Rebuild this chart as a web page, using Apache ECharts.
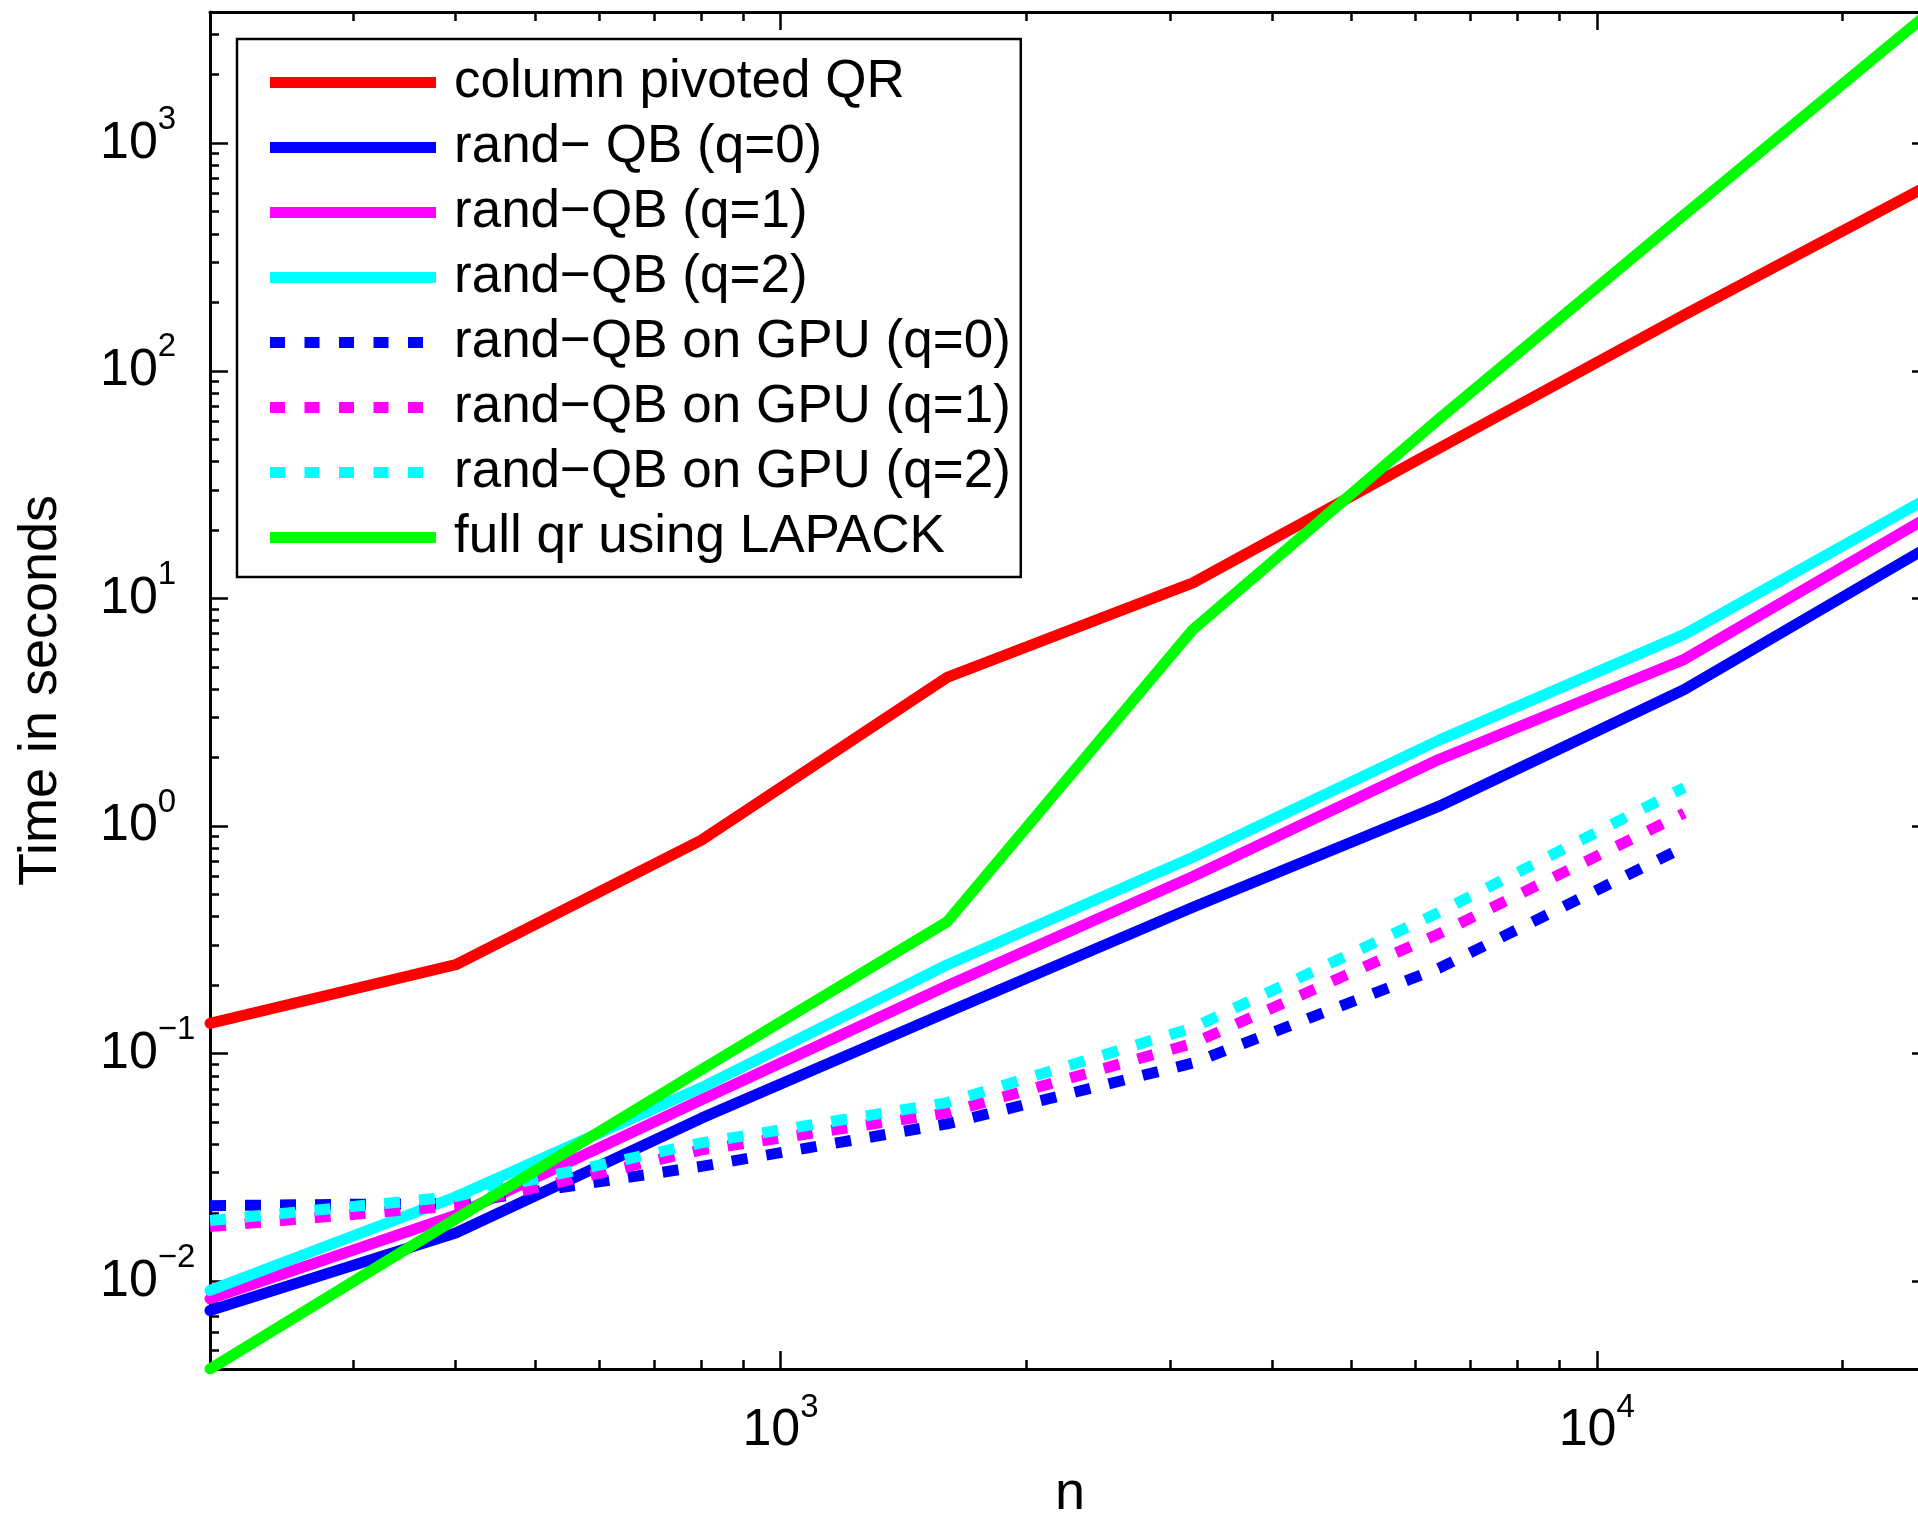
<!DOCTYPE html>
<html>
<head>
<meta charset="utf-8">
<script src="https://cdn.jsdelivr.net/npm/echarts@6/dist/echarts.min.js"></script>
<style>
  html, body { margin: 0; padding: 0; background: #fff; }
  #chart { width: 1918px; height: 1515px; }
</style>
</head>
<body>
<div id="chart"></div>
<script>
// problem size n
const nValues = [200, 400, 800, 1600, 3200, 6400, 12800, 25600];
// time in seconds
const colPivotQR = [0.136, 0.246, 0.867, 4.50, 11.7, 45.6, 176, 658];
const randQB0 = [0.00744, 0.0163, 0.0521, 0.152, 0.44, 1.22, 3.98, 17];
const randQB1 = [0.00838, 0.0195, 0.0628, 0.199, 0.60, 1.96, 5.4, 23];
const randQB2 = [0.00912, 0.0235, 0.071, 0.246, 0.73, 2.38, 6.95, 27.9];
// GPU runs stop at n = 12800
const gpuQB0 = [0.0215, 0.022, 0.032, 0.0492, 0.091, 0.237, 0.81];
const gpuQB1 = [0.0174, 0.0215, 0.0378, 0.055, 0.111, 0.336, 1.14];
const gpuQB2 = [0.0185, 0.0236, 0.0406, 0.061, 0.130, 0.417, 1.476];
const lapackQR = [0.00412, 0.0188, 0.0851, 0.38, 7.3, 61.3, 485, 3770];

// tick marks
const xMajorTicks = [1000, 10000];
const xMinorTicks = [300, 400, 500, 600, 700, 800, 900,
  2000, 3000, 4000, 5000, 6000, 7000, 8000, 9000, 20000];
const yMajorTicks = [0.01, 0.1, 1, 10, 100, 1000];
const yMinorTicks = [0.005, 0.006, 0.007, 0.008, 0.009,
  0.02, 0.03, 0.04, 0.05, 0.06, 0.07, 0.08, 0.09,
  0.2, 0.3, 0.4, 0.5, 0.6, 0.7, 0.8, 0.9,
  2, 3, 4, 5, 6, 7, 8, 9,
  20, 30, 40, 50, 60, 70, 80, 90,
  200, 300, 400, 500, 600, 700, 800, 900,
  2000, 3000];

const FONT = "'Liberation Sans', Arial, Helvetica, sans-serif";
const allTimes = [].concat(colPivotQR, randQB0, randQB1, randQB2, gpuQB0, gpuQB1, gpuQB2, lapackQR);
const xMin = nValues[0], xMax = nValues[nValues.length - 1];
const yMin = Math.min.apply(null, allTimes), yMax = Math.max.apply(null, allTimes);

function powLabel(v) {
  const e = Math.round(Math.log10(v));
  return '{b|10}{e|' + (e < 0 ? '\u2212' + (-e) : e) + '}';
}
const powRich = {
  b: { fontSize: 52, lineHeight: 80, fontFamily: FONT, color: '#000' },
  e: { fontSize: 33, lineHeight: 32, verticalAlign: 'top', fontFamily: FONT, color: '#000' }
};

function pairs(vals) {
  return vals.map((v, i) => [nValues[i], v]);
}

// one axis of the box frame (major or minor ticks)
function frameAxis(position, lo, hi, ticks, len, showLine) {
  return {
    type: 'log', logBase: 10, position: position, min: lo, max: hi,
    axisLine: { show: showLine, onZero: false, lineStyle: { color: '#000', width: 3 } },
    axisTick: { show: true, inside: true, length: len, customValues: ticks,
      lineStyle: { color: '#000', width: 2.5 } },
    axisLabel: { show: false },
    splitLine: { show: false },
    minorTick: { show: false }
  };
}

const solid = { width: 11, cap: 'round', join: 'round' };
const dotted = { width: 11, cap: 'butt', join: 'round', type: [16, 19] };
const dotIcon = 'path://M0,0h15v11h-15z M34.5,0h15v11h-15z M69,0h15v11h-15z M103.5,0h15v11h-15z M138,0h15v11h-15z M166,11';

const seriesDefs = [
  { name: 'column pivoted QR', data: colPivotQR, color: '#ff0000', style: solid },
  { name: 'rand\u2212 QB (q=0)', data: randQB0, color: '#0000ff', style: solid },
  { name: 'rand\u2212QB (q=1)', data: randQB1, color: '#ff00ff', style: solid },
  { name: 'rand\u2212QB (q=2)', data: randQB2, color: '#00ffff', style: solid },
  { name: 'rand\u2212QB on GPU (q=0)', data: gpuQB0, color: '#0000ff', style: dotted },
  { name: 'rand\u2212QB on GPU (q=1)', data: gpuQB1, color: '#ff00ff', style: dotted },
  { name: 'rand\u2212QB on GPU (q=2)', data: gpuQB2, color: '#00ffff', style: dotted },
  { name: 'full qr using LAPACK', data: lapackQR, color: '#00ff00', style: solid }
];

const chart = echarts.init(document.getElementById('chart'));
const xMain = frameAxis('bottom', xMin, xMax, xMajorTicks, 18, true);
xMain.axisLabel = { show: true, customValues: xMajorTicks, formatter: powLabel, rich: powRich, margin: 22 };
xMain.name = 'n';
xMain.nameLocation = 'middle';
xMain.nameGap = 98;
xMain.nameTextStyle = { fontSize: 54, fontFamily: FONT, color: '#000' };

const yMain = frameAxis('left', yMin, yMax, yMajorTicks, 18, true);
yMain.axisLabel = { show: true, customValues: yMajorTicks, formatter: powLabel, rich: powRich,
  margin: 110, align: 'left' };
yMain.name = 'Time in seconds';
yMain.nameLocation = 'middle';
yMain.nameGap = 142;
yMain.nameTextStyle = { fontSize: 54, fontFamily: FONT, color: '#000' };

chart.setOption({
  animation: false,
  backgroundColor: '#fff',
  grid: { left: 210, top: 12, right: -12, bottom: 146, containLabel: false, outerBoundsMode: 'none' },
  xAxis: [
    xMain,
    frameAxis('bottom', xMin, xMax, xMinorTicks, 9, false),
    frameAxis('top', xMin, xMax, xMajorTicks, 18, true),
    frameAxis('top', xMin, xMax, xMinorTicks, 9, false)
  ],
  yAxis: [
    yMain,
    frameAxis('left', yMin, yMax, yMinorTicks, 9, false),
    frameAxis('right', yMin, yMax, yMajorTicks, 18, true),
    frameAxis('right', yMin, yMax, yMinorTicks, 9, false)
  ],
  legend: {
    orient: 'vertical', left: 237, top: 39,
    padding: [16, 10, 12, 33],
    itemWidth: 166, itemHeight: 11, itemGap: 10,
    backgroundColor: '#fff', borderColor: '#000', borderWidth: 2.5, borderRadius: 0,
    selectedMode: false,
    itemStyle: { borderWidth: 0 },
    textStyle: { fontSize: 53, fontFamily: FONT, color: '#000', lineHeight: 55, padding: [0, 0, 0, 13] },
    data: seriesDefs.map(s => ({ name: s.name, icon: s.style === dotted ? dotIcon : 'rect' }))
  },
  series: seriesDefs.map(s => ({
    name: s.name, type: 'line', xAxisIndex: 0, yAxisIndex: 0,
    data: pairs(s.data),
    symbol: 'none', showSymbol: false,
    color: s.color,
    itemStyle: { color: s.color },
    lineStyle: Object.assign({ color: s.color }, s.style),
    emphasis: { disabled: true }
  }))
});
</script>
</body>
</html>
